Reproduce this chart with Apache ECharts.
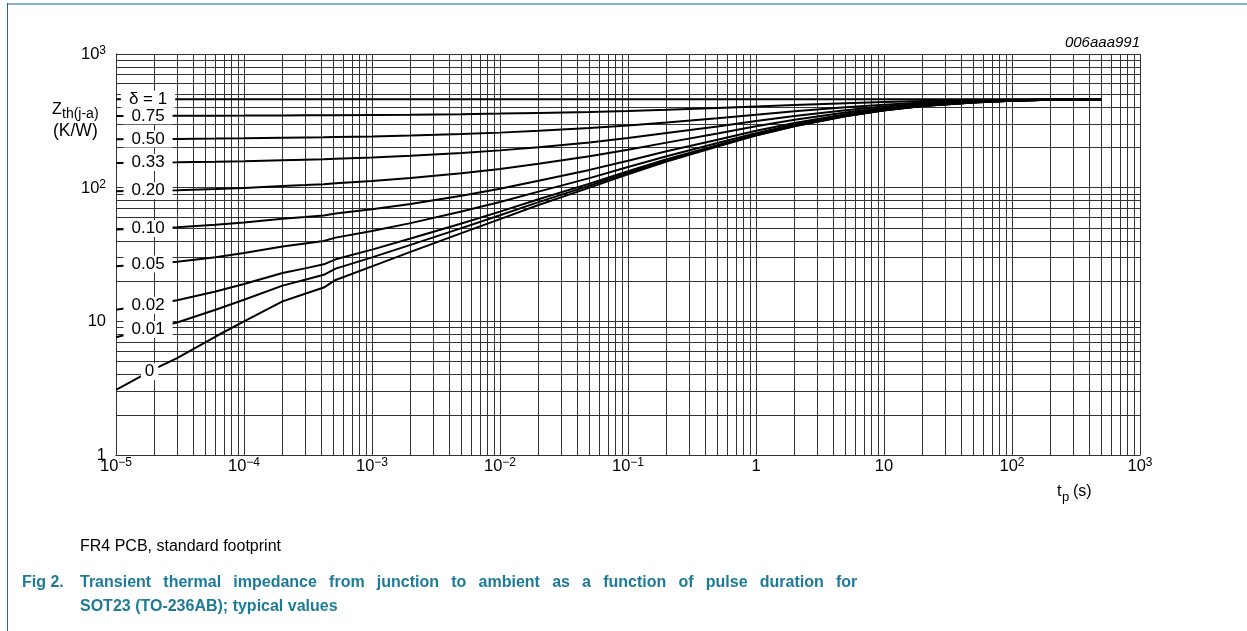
<!DOCTYPE html>
<html><head><meta charset="utf-8">
<script src="https://cdn.jsdelivr.net/npm/echarts@6/dist/echarts.min.js"></script>
<style>html,body{margin:0;padding:0;background:#fff}#c{width:1247px;height:631px}</style>
</head><body><div id="c"></div>
<script>
// pulse duration tp (s)
const T = [1e-5, 2e-5, 3e-5, 6e-5, 1e-4, 2e-4, 3e-4, 4.2e-4, 5.2e-4, 1e-3, 2e-3, 5e-3, 1e-2, 2e-2, 5e-2, 0.1, 0.2, 0.5, 1, 2, 5, 10, 20, 50, 100, 200, 500];
// Zth(j-a) (K/W) per duty cycle
const zD100 = [458,458,458,458,458,458,458,458,458,458,458,458,458,458,458,458,458,458,458,458,458,458,458,458,458,458,458];
const zD075 = [344.3,344.6,344.8,345.4,346.0,347.0,347.5,348.0,348.6,350.0,351.8,354.9,358.1,362.1,368.5,375.0,382.8,394.3,404.8,415.5,429.0,438.0,445.5,452.0,455.3,457.3,458];
const zD050 = [230.5,231.2,231.7,232.9,234.0,236.1,237.1,238.0,239.2,241.9,245.6,251.9,258.1,266.1,279.0,292.0,307.5,330.5,351.5,373.0,400.0,418.0,433.0,446.0,452.5,456.5,458];
const zD033 = [153.2,154.1,154.7,156.3,157.8,160.5,161.9,163.1,164.8,168.4,173.3,181.7,190.1,200.8,218.1,235.5,256.3,287.1,315.3,344.1,380.2,404.4,424.5,441.9,450.6,456.0,458];
const zD020 = [94.1,95.1,95.8,97.8,99.6,102.9,104.5,105.9,107.9,112.2,118.1,128.2,138.2,151.0,171.6,192.4,217.2,254.0,287.6,322.0,365.2,394.0,418.0,438.8,449.2,455.6,458];
const zD010 = [48.6,49.8,50.6,52.7,54.8,58.5,60.3,61.9,64.2,69.0,75.6,86.9,98.2,112.6,135.8,159.2,187.1,228.5,266.3,305.0,353.6,386.0,413.0,436.4,448.1,455.3,458];
const zD005 = [25.8,27.1,27.9,30.2,32.4,36.3,38.2,39.9,42.3,47.4,54.3,66.3,78.2,93.4,117.9,142.6,172.0,215.8,255.7,296.5,347.8,382.0,410.5,435.2,447.6,455.2,458];
const zD002 = [12.2,13.5,14.4,16.7,19.0,23.0,24.9,26.7,29.1,34.4,41.6,54.0,66.2,81.9,107.2,132.6,163.0,208.1,249.3,291.4,344.3,379.6,409.0,434.5,447.2,455.1,458];
const zD001 = [7.6,9.0,9.8,12.2,14.5,18.5,20.5,22.3,24.8,30.1,37.3,49.8,62.2,78.0,103.6,129.3,160.0,205.6,247.1,289.7,343.2,378.8,408.5,434.2,447.1,455.1,458];
const zD000 = [3.07,4.41,5.3,7.7,10.0,14.1,16.1,17.9,20.4,25.8,33.1,45.7,58.2,74.2,100,126,157,203,245,288,342,378,408,434,447,455,458];
const curves = [zD100, zD075, zD050, zD033, zD020, zD010, zD005, zD002, zD001, zD000];

// curve labels and the points where they sit
const labelNames = ['δ = 1','0.75','0.50','0.33','0.20','0.10','0.05','0.02','0.01','0'];
const labelT = [1.78e-5,1.78e-5,1.78e-5,1.78e-5,1.78e-5,1.78e-5,1.78e-5,1.78e-5,1.78e-5,1.83e-5];
const labelV = [458,344.5,231,154,95,49.5,26.8,13.2,8.7,4.2];

// tick labels by decade
const xTickBase = ['10','10','10','10','10','1','10','10','10'];
const xTickExp  = ['−5','−4','−3','−2','−1','','','2','3'];
const yTickBase = ['1','10','10','10'];
const yTickExp  = ['','','2','3'];

const captionNote = 'FR4 PCB, standard footprint';
const captionNum = 'Fig 2.';
const captionLine1 = 'Transient thermal impedance from junction to ambient as a function of pulse duration for';
const captionLine2 = 'SOT23 (TO-236AB); typical values';

const FONT = 'Liberation Sans, Arial, Helvetica, sans-serif';
const TEAL = '#1c7b98';

const gridX = [], gridY = [];
for (let e = -5; e < 3; e++) for (let m = 1; m <= 9; m++) gridX.push(m * Math.pow(10, e));
gridX.push(1000);
for (let e = 0; e < 3; e++) for (let m = 1; m <= 9; m++) gridY.push(m * Math.pow(10, e));
gridY.push(1000);

const richTick = {
  b: {fontSize: 16.5, lineHeight: 18, verticalAlign: 'bottom', fontFamily: FONT, color: '#000'},
  s: {fontSize: 12, lineHeight: 8, verticalAlign: 'top', fontFamily: FONT, color: '#000'}
};
function tickFmt(base, exp, offset) {
  return function (v) {
    const i = Math.round(Math.log10(v)) + offset;
    if (i < 0 || i >= base.length) return '';
    return '{b|' + base[i] + '}' + (exp[i] ? '{s|' + exp[i] + '}' : '');
  };
}

const gridLines = gridX.map(v => [{coord: [v, 1]}, {coord: [v, 1000]}])
  .concat(gridY.map(v => [{coord: [1e-5, v]}, {coord: [1000, v]}]));

const series = [{
  type: 'line', data: [[1e-5, 1]], symbol: 'none', silent: true, z: 1,
  lineStyle: {opacity: 0},
  markLine: {
    silent: true, z: 1, animation: false, symbol: ['none', 'none'], precision: 12,
    label: {show: false}, emphasis: {disabled: true},
    lineStyle: {color: '#333', width: 1, type: 'solid'},
    data: gridLines
  }
}];
curves.forEach((c, k) => {
  series.push({
    type: 'line', name: labelNames[k], z: 3, silent: true,
    data: T.map((t, j) => [t, c[j]]),
    symbol: 'none', showSymbol: false, smooth: false,
    lineStyle: {color: '#000', width: 2}
  });
});
series.push({
  type: 'scatter', z: 6, silent: true, symbolSize: 0,
  itemStyle: {opacity: 1},
  data: labelNames.map((n, i) => ({name: n, value: [labelT[i], labelV[i]],
    label: {padding: i === labelNames.length - 1 ? [0, 4] : [0, 8]}})),
  label: {show: true, position: 'inside', formatter: p => p.name, color: '#000',
    textBorderWidth: 0, textShadowBlur: 0, opacity: 1,
    fontSize: 17, fontFamily: FONT, backgroundColor: '#fff', lineHeight: 17}
});

const chart = echarts.init(document.getElementById('c'), null, {renderer: 'canvas'});
chart.setOption({
  animation: false,
  backgroundColor: '#fff',
  grid: {left: 116, right: 107, top: 54, bottom: 176, containLabel: false},
  xAxis: {
    type: 'log', logBase: 10, min: 1e-5, max: 1000, splitNumber: 8,
    axisLine: {show: true, lineStyle: {color: '#000', width: 1}},
    axisTick: {show: false}, splitLine: {show: false},
    axisLabel: {margin: 2, formatter: tickFmt(xTickBase, xTickExp, 5), rich: richTick, showMinLabel: true, showMaxLabel: true}
  },
  yAxis: {
    type: 'log', logBase: 10, min: 1, max: 1000, splitNumber: 3,
    axisLine: {show: true, lineStyle: {color: '#000', width: 1}},
    axisTick: {show: false}, splitLine: {show: false},
    axisLabel: {margin: 10, formatter: tickFmt(yTickBase, yTickExp, 0), rich: richTick, showMinLabel: true, showMaxLabel: true}
  },
  series: series,
  graphic: [
    {type: 'rect', silent: true, shape: {x: 7, y: 3, width: 1240, height: 2}, style: {fill: '#7db6c8'}},
    {type: 'rect', silent: true, shape: {x: 7, y: 3, width: 1, height: 628}, style: {fill: '#1f6f8b'}},
    {type: 'text', silent: true, x: 1140, y: 43, style: {text: '006aaa991', font: 'italic 15px ' + FONT, fill: '#000', align: 'right', verticalAlign: 'middle'}},
    {type: 'text', silent: true, x: 52, y: 110, style: {text: 'Z', font: '16px ' + FONT, fill: '#000', align: 'left', verticalAlign: 'middle'}},
    {type: 'text', silent: true, x: 62, y: 114, style: {text: 'th(j-a)', font: '14px ' + FONT, fill: '#000', align: 'left', verticalAlign: 'middle'}},
    {type: 'text', silent: true, x: 53, y: 131, style: {text: '(K/W)', font: '17.5px ' + FONT, fill: '#000', align: 'left', verticalAlign: 'middle'}},
    {type: 'text', silent: true, x: 1057, y: 492, style: {text: 't', font: '16px ' + FONT, fill: '#000', align: 'left', verticalAlign: 'middle'}},
    {type: 'text', silent: true, x: 1062, y: 497, style: {text: 'p', font: '13px ' + FONT, fill: '#000', align: 'left', verticalAlign: 'middle'}},
    {type: 'text', silent: true, x: 1073, y: 492, style: {text: '(s)', font: '16px ' + FONT, fill: '#000', align: 'left', verticalAlign: 'middle'}},
    {type: 'text', silent: true, x: 80, y: 547, style: {text: captionNote, font: '16px ' + FONT, fill: '#000', align: 'left', verticalAlign: 'middle'}},
    {type: 'text', silent: true, x: 22, y: 583, style: {text: captionNum, font: 'bold 16px ' + FONT, fill: TEAL, align: 'left', verticalAlign: 'middle'}},
    {type: 'text', silent: true, x: 80, y: 583, style: {text: captionLine1.split(' ').join('{sp| }'), font: 'bold 16px ' + FONT, fill: TEAL, align: 'left', verticalAlign: 'middle',
      rich: {sp: {width: 12.2, fontSize: 16, fontWeight: 'bold', fontFamily: FONT}}}},
    {type: 'text', silent: true, x: 80, y: 607, style: {text: captionLine2, font: 'bold 16px ' + FONT, fill: TEAL, align: 'left', verticalAlign: 'middle'}}
  ]
});
</script>
</body></html>
